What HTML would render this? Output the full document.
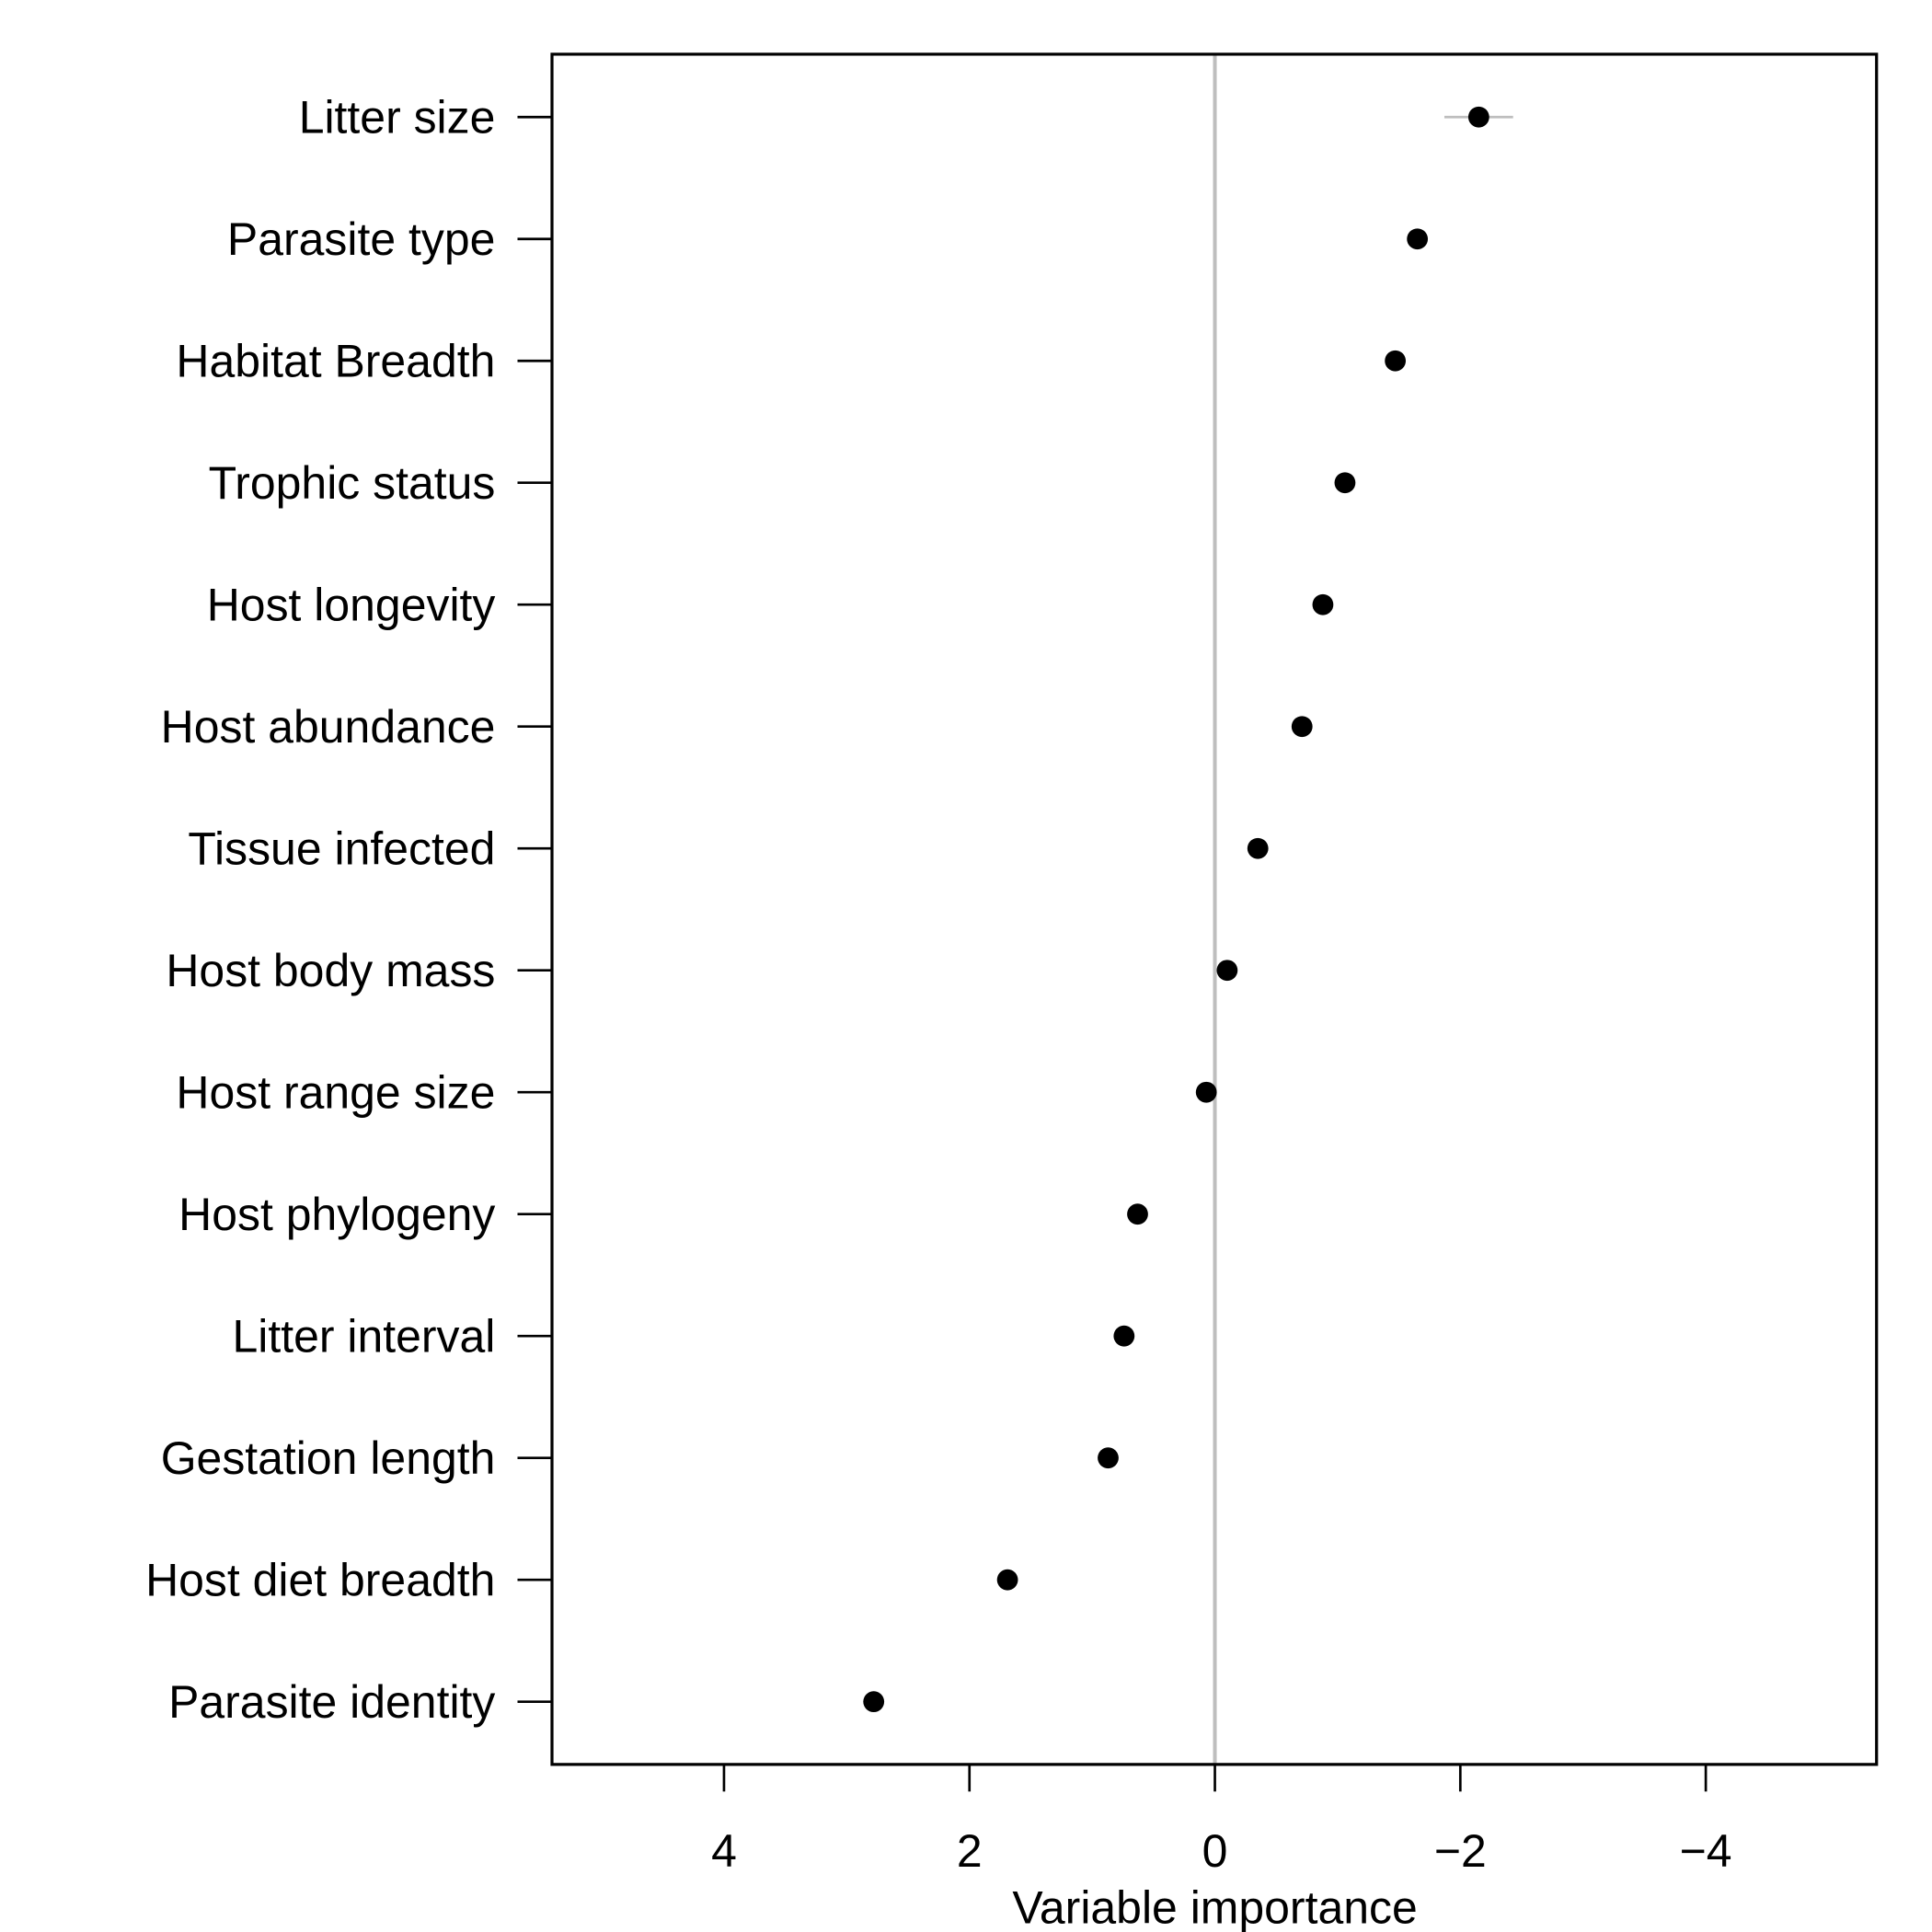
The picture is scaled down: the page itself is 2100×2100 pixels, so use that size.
<!DOCTYPE html>
<html><head><meta charset="utf-8"><style>
html,body{margin:0;padding:0;background:#fff;}
svg{display:block;}
text{font-family:"Liberation Sans",Arial,sans-serif;fill:#000;}
</style></head><body>
<svg id="chart" width="2100" height="2100" viewBox="0 0 1568 1568" xmlns="http://www.w3.org/2000/svg"></svg>
<script>
const categories = ["Litter size","Parasite type","Habitat Breadth","Trophic status","Host longevity","Host abundance","Tissue infected","Host body mass","Host range size","Host phylogeny","Litter interval","Gestation length","Host diet breadth","Parasite identity"];
const values = [-2.15,-1.65,-1.47,-1.06,-0.88,-0.71,-0.35,-0.10,0.07,0.63,0.74,0.87,1.69,2.78];
const errLow = [-1.87,null,null,null,null,null,null,null,null,null,null,null,null,null];
const errHigh = [-2.43,null,null,null,null,null,null,null,null,null,null,null,null,null];
const tickValues = [4,2,0,-2,-4];
const tickLabels = ["4","2","0","\u22122","\u22124"];

const NS="http://www.w3.org/2000/svg";
const svg=document.getElementById('chart');
const L=448,R=1523,T=44,B=1432;
const FS=37.3;
const xScale=v=>986 - v*99.6;
const yScale=i=>95 + i*98.93;
function mk(tag,attrs,parent){const e=document.createElementNS(NS,tag);for(const k in attrs)e.setAttribute(k,attrs[k]);(parent||svg).appendChild(e);return e;}

const z=mk('line',{x1:xScale(0),x2:xScale(0),y1:T,y2:B,stroke:'#bebebe','stroke-width':3});



const box=mk('rect',{x:L,y:T,width:R-L,height:B-T,fill:'none',stroke:'#000','stroke-width':2.4});



categories.forEach((c,i)=>{
  const y=yScale(i);
  const tk=mk('line',{x1:420,x2:L,y1:y,y2:y,stroke:'#000','stroke-width':2});
  
  
  const t=mk('text',{x:402,y:y+13,'text-anchor':'end','font-size':FS});
  t.textContent=c;
  
  
  if(errLow[i]!==null){
    const e=mk('line',{x1:xScale(errLow[i]),x2:xScale(errHigh[i]),y1:y,y2:y,stroke:'#bebebe','stroke-width':2});
    
    
  }
  const p=mk('circle',{cx:xScale(values[i]),cy:y,r:8.5,fill:'#000'});
  
  
});

tickValues.forEach((v,i)=>{
  const x=xScale(v);
  const tk=mk('line',{x1:x,x2:x,y1:B,y2:B+22,stroke:'#000','stroke-width':2});
  
  
  const t=mk('text',{x:x,y:1515,'text-anchor':'middle','font-size':FS});
  t.textContent=tickLabels[i];
  
  
});

const title=mk('text',{x:986,y:1561,'text-anchor':'middle','font-size':FS});
title.textContent='Variable importance';


</script>
</body></html>
